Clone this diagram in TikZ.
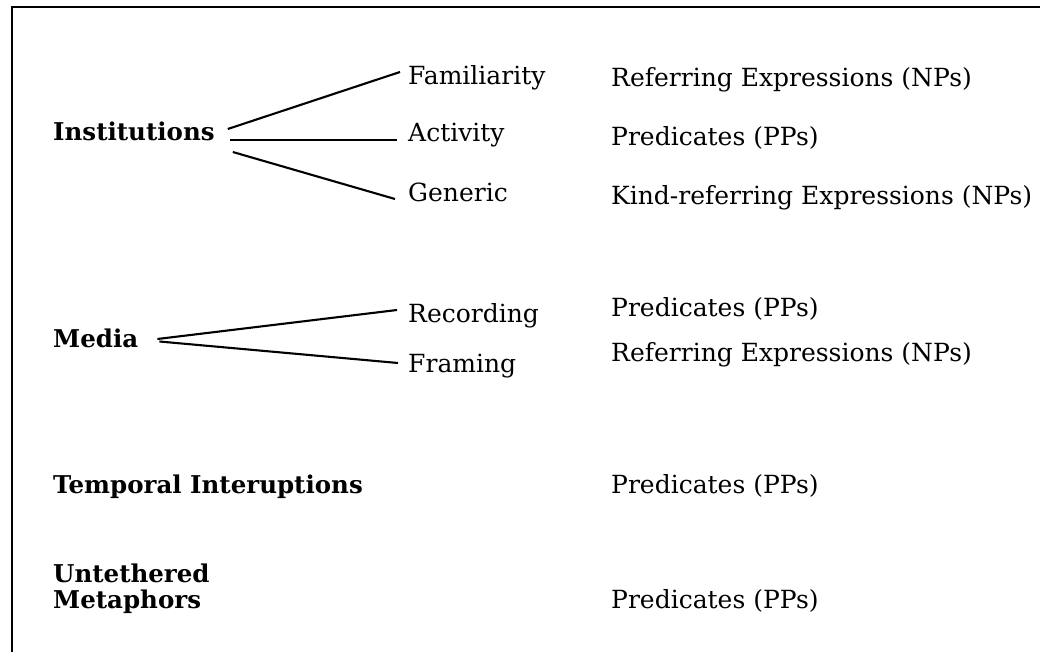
\documentclass[tikz,border=0pt]{standalone}
\usepackage{fontspec}
\setmainfont{DejaVu Serif}
\begin{document}
\begin{tikzpicture}[x=1pt,y=-1pt,
  lbl/.style={anchor=base west,inner sep=0pt,text height=19pt,text depth=6pt,font=\fontsize{25}{30}\selectfont},
  cat/.style={lbl,font=\fontsize{24.5}{30}\selectfont\bfseries},
  conn/.style={line width=2.1pt},
  frame/.style={line width=2.3pt}]
\useasboundingbox (0,0) rectangle (1042,652);
% frame
\coordinate (tr) at (1040,7);
\coordinate (tl) at (12,7);
\coordinate (bl) at (12,652);
\draw[frame] (tr) -- (tl) -- (bl);
% categories
\node[cat] (inst) at (53,141) {Institutions};
\node[cat] (media) at (53,348) {Media};
\node[cat] (temp) at (53,493) {Temporal Interuptions};
\node[cat] (unt) at (53,582) {Untethered};
\node[cat] (met) at (53,608) {Metaphors};
% subtypes
\node[lbl] (fam) at (408,85) {Familiarity};
\node[lbl] (act) at (408,142) {Activity};
\node[lbl] (gen) at (408,202) {Generic};
\node[lbl] (rec) at (408,323) {Recording};
\node[lbl] (fra) at (408,373) {Framing};
% expression types
\node[lbl] (e1) at (611,87) {Referring Expressions (NPs)};
\node[lbl] (e2) at (611,146) {Predicates (PPs)};
\node[lbl] (e3) at (611,205) {Kind-referring Expressions (NPs)};
\node[lbl] (e4) at (611,317) {Predicates (PPs)};
\node[lbl] (e5) at (611,362) {Referring Expressions (NPs)};
\node[lbl] (e6) at (611,493) {Predicates (PPs)};
\node[lbl] (e7) at (611,608) {Predicates (PPs)};
% connectors
\draw[conn] ([shift={(13,-5.5)}]inst.east) -- ([shift={(-8,-6.5)}]fam.west);
\draw[conn] ([shift={(15,5.5)}]inst.east) -- ([shift={(-11,4.5)}]act.west);
\draw[conn] ([shift={(18,17.5)}]inst.east) -- ([shift={(-13,3.5)}]gen.west);
\draw[conn] ([shift={(19,-2.5)}]media.east) -- ([shift={(-11,-6.5)}]rec.west);
\draw[conn] ([shift={(21,0)}]media.east) -- ([shift={(-10,-3.5)}]fra.west);
\end{tikzpicture}
\end{document}
